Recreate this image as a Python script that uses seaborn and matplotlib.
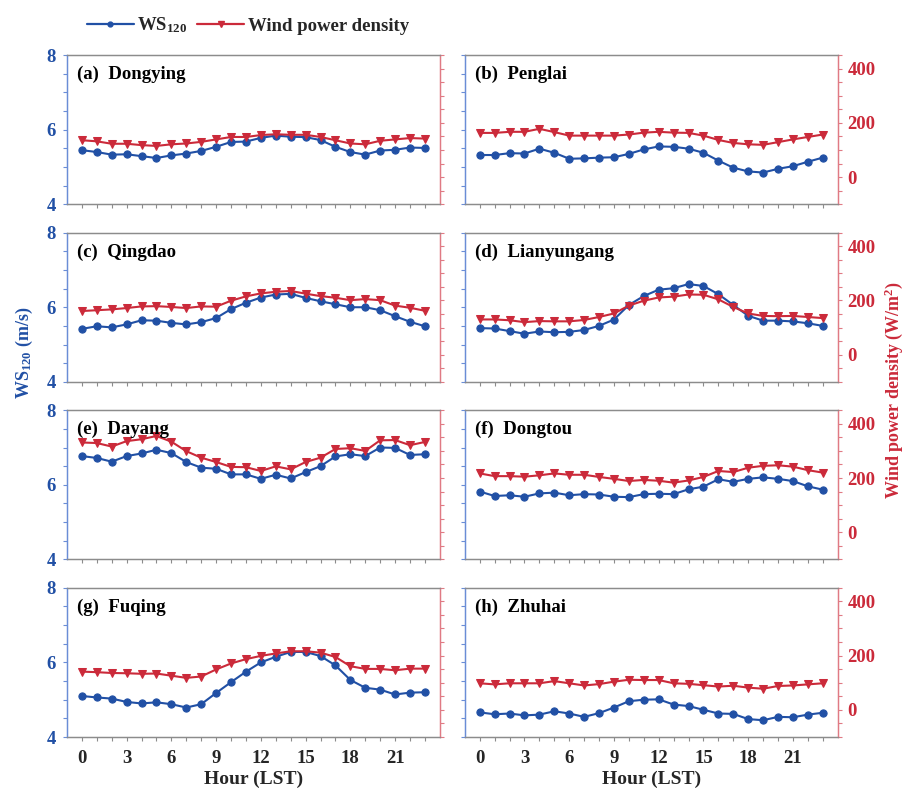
import numpy as np
import pandas as pd
import matplotlib
matplotlib.use("Agg")
import matplotlib.pyplot as plt
from matplotlib.lines import Line2D
import seaborn as sns

# hours 0-23 (LST)
hours = list(range(24))

stations = ["Dongying", "Penglai", "Qingdao", "Lianyungang",
            "Dayang", "Dongtou", "Fuqing", "Zhuhai"]
panel_tags = ["(a)", "(b)", "(c)", "(d)", "(e)", "(f)", "(g)", "(h)"]

# WS120 (m/s)
ws_dongying = [5.45, 5.40, 5.33, 5.34, 5.29, 5.24, 5.31, 5.36, 5.43, 5.54, 5.67, 5.68,
               5.78, 5.84, 5.81, 5.80, 5.72, 5.54, 5.40, 5.33, 5.44, 5.46, 5.52, 5.51]
ws_penglai = [5.32, 5.32, 5.37, 5.36, 5.49, 5.38, 5.22, 5.23, 5.25, 5.26, 5.35, 5.47,
              5.55, 5.54, 5.49, 5.38, 5.17, 4.98, 4.88, 4.85, 4.95, 5.02, 5.14, 5.25]
ws_qingdao = [5.42, 5.49, 5.46, 5.54, 5.65, 5.64, 5.58, 5.54, 5.60, 5.71, 5.95, 6.12,
              6.26, 6.34, 6.36, 6.25, 6.16, 6.08, 6.00, 6.00, 5.92, 5.76, 5.61, 5.49]
ws_lianyungang = [5.44, 5.43, 5.36, 5.29, 5.35, 5.33, 5.34, 5.39, 5.50, 5.67, 6.06, 6.30,
                  6.47, 6.51, 6.62, 6.57, 6.35, 6.06, 5.77, 5.64, 5.64, 5.62, 5.57, 5.50]
ws_dayang = [6.77, 6.72, 6.62, 6.77, 6.84, 6.94, 6.85, 6.61, 6.46, 6.43, 6.28, 6.28,
             6.16, 6.27, 6.17, 6.34, 6.50, 6.76, 6.82, 6.77, 7.00, 6.99, 6.80, 6.82]
ws_dongtou = [5.82, 5.70, 5.72, 5.68, 5.77, 5.79, 5.72, 5.75, 5.74, 5.68, 5.67, 5.75,
              5.76, 5.75, 5.88, 5.95, 6.15, 6.08, 6.16, 6.20, 6.16, 6.10, 5.96, 5.87]
ws_fuqing = [5.10, 5.06, 5.03, 4.94, 4.90, 4.93, 4.88, 4.79, 4.88, 5.18, 5.47, 5.75,
             6.00, 6.15, 6.28, 6.28, 6.17, 5.92, 5.53, 5.32, 5.27, 5.14, 5.19, 5.20]
ws_zhuhai = [4.66, 4.61, 4.63, 4.58, 4.60, 4.69, 4.63, 4.54, 4.64, 4.79, 4.96, 5.00,
             5.01, 4.87, 4.83, 4.73, 4.63, 4.62, 4.48, 4.45, 4.54, 4.53, 4.60, 4.65]

# wind power density (W/m2)
wpd_dongying = [136, 132, 123, 123, 118, 115, 121, 124, 130, 139, 148, 148,
                155, 158, 156, 156, 148, 136, 124, 121, 134, 139, 144, 142]
wpd_penglai = [163, 163, 167, 167, 178, 166, 153, 153, 153, 153, 157, 164,
               167, 164, 163, 153, 137, 126, 121, 119, 129, 139, 148, 157]
wpd_qingdao = [161, 164, 167, 172, 178, 179, 176, 172, 178, 177, 199, 215,
               226, 232, 235, 225, 216, 210, 201, 205, 201, 181, 173, 162]
wpd_lianyungang = [130, 130, 127, 120, 124, 123, 123, 128, 139, 152, 181, 199,
                   211, 214, 222, 221, 204, 176, 152, 143, 142, 143, 139, 135]
wpd_dayang = [331, 329, 316, 336, 343, 355, 334, 299, 275, 259, 241, 240,
              226, 243, 232, 259, 275, 307, 310, 300, 339, 340, 321, 333]
wpd_dongtou = [217, 207, 207, 205, 210, 217, 212, 212, 204, 197, 189, 193,
               190, 183, 191, 204, 226, 222, 238, 245, 247, 242, 229, 220]
wpd_fuqing = [141, 139, 136, 135, 133, 134, 126, 118, 123, 149, 171, 187,
              199, 208, 216, 216, 211, 195, 161, 151, 151, 146, 152, 152]
wpd_zhuhai = [98, 94, 98, 98, 98, 106, 98, 90, 95, 104, 111, 110,
              110, 98, 96, 91, 86, 89, 82, 78, 88, 90, 94, 98]

ws_all = [ws_dongying, ws_penglai, ws_qingdao, ws_lianyungang,
          ws_dayang, ws_dongtou, ws_fuqing, ws_zhuhai]
wpd_all = [wpd_dongying, wpd_penglai, wpd_qingdao, wpd_lianyungang,
           wpd_dayang, wpd_dongtou, wpd_fuqing, wpd_zhuhai]

blue = "#2150A5"
red = "#CB2A3A"
blue_spine = "#6A8DD6"
red_spine = "#E07A84"
gray = "#8C8C8C"

sns.set_style("ticks")
plt.rcParams["font.family"] = ["Liberation Serif", "DejaVu Serif"]
plt.rcParams["font.weight"] = "bold"
plt.rcParams["mathtext.fontset"] = "custom"
plt.rcParams["mathtext.rm"] = "Liberation Serif:bold"
plt.rcParams["mathtext.default"] = "rm"

fig, axes = plt.subplots(4, 2, figsize=(9.11, 7.93), dpi=100)
fig.subplots_adjust(left=0.0735, right=0.9195, top=0.9306, bottom=0.0706,
                    wspace=0.067, hspace=0.19)

for i, ax in enumerate(axes.flat):
    row, col = divmod(i, 2)
    df = pd.DataFrame({"hour": hours, "ws": ws_all[i], "wpd": wpd_all[i]})
    ax2 = ax.twinx()

    sns.lineplot(data=df, x="hour", y="ws", ax=ax, color=blue, marker="o",
                 markersize=5.2, markeredgecolor=blue, linewidth=1.5, legend=False)
    sns.lineplot(data=df, x="hour", y="wpd", ax=ax2, color=red, marker="v",
                 markersize=6, markeredgecolor=red, linewidth=1.5, legend=False)

    ax.set_xlim(-1, 24)
    ax.set_ylim(4, 8)
    ax2.set_ylim(-100, 450)

    ax.set_xticks(hours)
    if row == 3:
        ax.set_xticklabels([str(h) if h % 3 == 0 else "" for h in hours],
                           fontsize=13.5, fontweight="bold")
        ax.set_xlabel("Hour (LST)", fontsize=14, fontweight="bold", labelpad=3)
    else:
        ax.set_xticklabels([])
        ax.set_xlabel("")

    yt = np.arange(4, 8.01, 0.5)
    ax.set_yticks(yt)
    if col == 0:
        ax.set_yticklabels([f"{v:g}" if v % 2 == 0 else "" for v in yt],
                           fontsize=13.5, fontweight="bold", color=blue)
    else:
        ax.set_yticklabels([])
    ax.set_ylabel("")

    yt2 = np.arange(-100, 451, 50)
    ax2.set_yticks(yt2)
    if col == 1:
        ax2.set_yticklabels([f"{v:d}" if v in (0, 200, 400) else "" for v in yt2],
                            fontsize=13.5, fontweight="bold", color=red)
    else:
        ax2.set_yticklabels([])
    ax2.set_ylabel("")

    ax.tick_params(axis="x", direction="out", length=3, width=0.8, color=gray, pad=6)
    ax.tick_params(axis="y", direction="out", length=3, width=0.8, color=blue_spine, pad=5)
    ax2.tick_params(axis="y", direction="out", length=3, width=0.8, color=red_spine, pad=4)

    for a in (ax, ax2):
        a.spines["top"].set_color(gray)
        a.spines["bottom"].set_color(gray)
        a.spines["left"].set_color(blue_spine)
        a.spines["right"].set_color(red_spine)
        for s in a.spines.values():
            s.set_linewidth(0.9)

    ax2.text(0.028, 0.87, f"{panel_tags[i]}  {stations[i]}", transform=ax2.transAxes,
             fontsize=13.5, fontweight="bold", ha="left", va="center", color="black")

fig.text(0.027, 0.555, "WS$_{120}$ (m/s)", rotation=90, ha="center", va="center",
         fontsize=13, fontweight="bold", color=blue)
fig.text(0.981, 0.508, "Wind power density (W/m$^{2}$)", rotation=90, ha="center",
         va="center", fontsize=13, fontweight="bold", color=red)

handles = [Line2D([0], [0], color=blue, marker="o", markersize=3.5, linewidth=1.6),
           Line2D([0], [0], color=red, marker="v", markersize=4, linewidth=1.6)]
fig.legend(handles, ["WS$_{120}$", "Wind power density"], loc="center",
           bbox_to_anchor=(0.272, 0.968), ncol=2, frameon=False, fontsize=13.5,
           handlelength=2.5, handletextpad=0.2, columnspacing=0.5)

fig.savefig("out.png", dpi=100)
